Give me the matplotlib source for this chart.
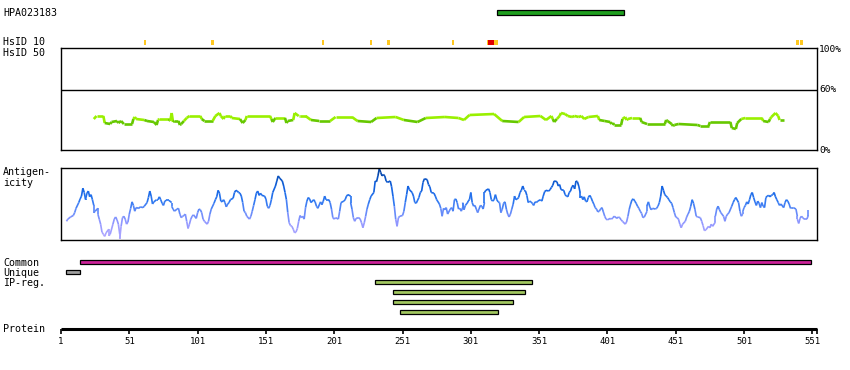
"""
Protein feature overview — HPA023183
Tracks: antibody target, HsID marks, identity %, antigenicity, regions, protein axis
"""

import numpy as np
import matplotlib
matplotlib.use("Agg")
import matplotlib.pyplot as plt
from matplotlib.collections import LineCollection
from matplotlib.colors import LinearSegmentedColormap, Normalize

# ── 1. Data ───────────────────────────────────────────────────────────────
SEQ_END = 554.4
AXIS_TICKS = [1, 51, 101, 151, 201, 251, 301, 351, 401, 451, 501, 551]

hpa_start, hpa_end = 320, 413

hsid_start = [62, 111, 192, 227, 240, 287, 313, 313.6, 318, 539, 542]
hsid_width = [1.5, 2, 1.5, 1.5, 2, 1.5, 0.8, 4.5, 2.7, 2.3, 2]
hsid_color = ["#ffc820"] * 6 + ["#ffc820", "#e00000", "#ffc820", "#ffc820", "#ffc820"]

id_res = [25, 27, 32, 33, 37, 38, 42, 43, 45, 47,
          53, 54, 55, 56, 62, 64, 69, 71, 72, 73,
          80, 81, 82, 83, 84, 87, 88, 89, 91, 93,
          95, 103, 104, 106, 112, 114, 117, 118, 120, 121,
          125, 126, 132, 134, 136, 137, 154, 155, 156, 158,
          165, 166, 167, 171, 172, 175, 176,
          180, 184, 190, 198, 202, 214, 218, 228, 232, 246,
          252, 262, 268, 282, 292, 296, 300, 318, 324, 336,
          340, 352, 356,
          360, 361, 362, 364, 366, 367, 370, 372, 375, 377,
          380, 382, 384, 387, 394, 395, 399, 403, 404, 405,
          406, 411, 412, 414, 415, 416, 419, 425, 426, 430,
          443, 444, 445, 448, 449, 450, 453, 467, 469, 475,
          476, 491, 492, 495, 496, 499, 502, 514, 515, 519,
          520, 521, 524, 526, 527, 530]
id_pct = [31, 34, 34, 27, 26, 28, 29, 27, 29, 26,
          26, 31, 33, 31, 30, 29, 28, 25, 30, 31,
          31, 29, 37, 28, 29, 29, 25, 26, 29, 32,
          34, 34, 31, 29, 29, 34, 37, 34, 31, 34,
          34, 32, 31, 27, 30, 34, 34, 31, 28, 32,
          32, 27, 29, 30, 37, 34, 34,
          34, 30, 29, 29, 33, 33, 29, 28, 32, 33,
          30, 28, 32, 33, 32, 30, 35, 36, 29, 28,
          33, 34, 30,
          34, 31, 28, 31, 34, 37, 36, 34, 33, 34,
          33, 34, 31, 33, 34, 30, 29, 28, 26, 27,
          25, 25, 31, 33, 30, 31, 32, 32, 28, 26,
          26, 30, 29, 26, 24, 25, 26, 25, 24, 24,
          28, 28, 22, 21, 27, 31, 32, 32, 29, 28,
          31, 33, 37, 34, 30, 30]

ag_res = [5, 6, 8, 10, 11, 12, 14, 15, 16, 17,
          18, 19, 19, 20, 21, 22, 23, 24, 25, 25,
          26, 28, 28, 29, 30, 31, 32, 33, 34, 36,
          36, 37, 39, 40, 41, 42, 43, 44, 44, 45,
          46, 47, 48, 49, 50, 51, 52, 53, 54, 55,
          56, 58, 59, 61, 62, 64, 65, 66, 67, 68,
          69, 71, 72, 73, 74, 75, 76, 77, 78, 80,
          82, 82, 83, 84, 86, 87, 88, 89, 90, 91,
          92, 93, 94, 95, 96, 97, 98, 100, 101, 102,
          103, 104, 105, 106, 108, 109, 110, 111, 113, 114,
          115, 116, 117, 118, 119, 120, 121, 122, 123, 124,
          125, 127, 128, 129, 130, 131, 132, 133, 134, 135,
          136, 137, 139, 140, 141, 142, 143, 144, 145, 146,
          147, 148, 150, 151, 152, 153, 154, 155, 156, 158,
          159, 160, 161, 163, 164, 165, 166, 167, 168, 169,
          170, 171, 172, 173, 174, 175, 176, 177, 178, 179,
          180, 181, 182, 183, 184, 186, 187, 188, 189, 191,
          192, 193, 194, 195, 197, 198, 199, 200, 201, 202,
          204, 205, 206, 208, 209, 210, 211, 213, 213, 214,
          215, 216, 217, 219, 220, 221, 222, 223, 224, 225,
          226, 227, 228, 230, 231, 232, 233, 234, 235, 236,
          237, 238, 239, 240, 242, 243, 244, 245, 246, 247,
          248, 249, 251, 252, 253, 254, 255, 256, 258, 259,
          260, 261, 263, 264, 265, 266, 267, 269, 270, 271,
          272, 274, 275, 276,
          278, 279, 280, 281, 282, 283, 284, 286, 287, 288,
          289, 290, 291, 292, 293, 294, 295, 295, 296, 297,
          299, 299, 300, 301, 302, 303, 304, 305, 306, 307,
          308, 309, 310, 311, 311, 312, 314, 315, 316, 317,
          318, 319, 320, 321, 322, 323, 324, 325, 326, 327,
          328, 329, 330, 331, 332, 333, 334, 335, 336, 337,
          338, 339, 340, 340, 341, 342, 343, 344, 345, 346,
          347, 348, 349, 350, 352, 353, 354, 355, 356, 358,
          359, 360, 361, 362, 364, 365, 366, 367, 369, 370,
          371, 372, 373, 374, 375, 376, 377, 378, 379, 380,
          381, 381, 382, 383, 384, 385, 386, 387, 388, 389,
          390, 391, 392, 393, 394, 395, 396, 397, 398, 399,
          400, 401, 403, 404, 405, 406, 408, 409, 410, 411,
          412, 414, 415, 416, 417, 418, 419, 420, 421, 422,
          423, 424, 425, 426, 427, 428, 430, 430, 431, 432,
          433, 434, 436, 437, 438, 439, 440, 441, 442, 443,
          444, 445, 446, 447, 448, 449, 450, 451, 452, 453,
          454, 455, 456, 458, 459, 460, 461, 462, 463, 464,
          465, 466, 467, 469, 470, 471, 472, 473, 475, 476,
          477, 478, 480, 480, 481, 482, 483, 484, 486, 487,
          488, 489, 490, 492, 493, 494, 495, 497, 498, 499,
          500, 500, 501, 502, 503, 504, 505, 506, 507, 508,
          509, 510, 511, 512, 513, 514, 515, 516, 517, 518,
          519, 520, 521, 522, 523, 524, 525, 526, 527, 528,
          530, 531, 532, 533, 534, 535, 536, 537, 539, 540,
          540, 541, 542, 543, 544, 545, 547, 548, 548]
ag_val = [26, 29, 32, 34, 38, 44, 52, 57, 61, 72,
          66, 56, 57, 65, 68, 60, 63, 56, 48, 38,
          40, 44, 36, 29, 22, 11, 8, 5, 10, 15,
          6, 8, 22, 29, 32, 28, 22, 8, 2, 19,
          31, 33, 29, 22, 25, 36, 44, 53, 48, 40,
          45, 44, 46, 45, 47, 52, 59, 68, 61, 50,
          53, 56, 56, 60, 56, 51, 48, 54, 55, 55,
          52, 47, 43, 40, 43, 44, 36, 31, 33, 34,
          36, 26, 16, 22, 29, 33, 35, 30, 38, 43,
          42, 38, 29, 26, 22, 26, 36, 43, 51, 56,
          60, 69, 65, 54, 53, 56, 52, 46, 50, 52,
          56, 58, 66, 69, 68, 66, 65, 61, 52, 40,
          38, 33, 29, 33, 40, 48, 56, 65, 68, 62,
          65, 62, 61, 57, 47, 44, 48, 56, 66, 75,
          82, 89, 86, 82, 75, 66, 56, 38, 24, 20,
          19, 15, 10, 11, 16, 26, 34, 31, 33, 29,
          45, 54, 59, 57, 52, 56, 53, 47, 44, 53,
          49, 54, 61, 56, 56, 52, 43, 31, 29, 31,
          29, 40, 52, 54, 56, 61, 63, 61, 52, 43,
          31, 26, 30, 31, 29, 24, 17, 24, 33, 43,
          50, 56, 61, 66, 82, 81, 89, 99, 94, 89,
          91, 89, 82, 80, 82, 74, 61, 47, 29, 19,
          31, 33, 34, 40, 52, 63, 75, 70, 66, 61,
          52, 51, 59, 66, 68, 80, 85, 84, 77, 74,
          66, 65, 61, 56,
          50, 44, 33, 44, 42, 45, 36, 43, 45, 40,
          56, 57, 52, 43, 44, 40, 45, 52, 42, 48,
          53, 54, 56, 66, 52, 47, 48, 43, 38, 43,
          48, 47, 43, 52, 66, 69, 71, 66, 56, 54,
          56, 63, 56, 53, 52, 38, 43, 51, 53, 43,
          36, 32, 36, 43, 50, 61, 56, 57, 59, 66,
          69, 75, 70, 69, 68, 62, 52, 54, 53, 51,
          48, 53, 52, 54, 56, 54, 61, 67, 69, 68,
          70, 73, 76, 82, 81, 75, 77, 70, 69, 63,
          61, 60, 66, 68, 74, 76, 71, 82, 81, 75,
          66, 59, 61, 56, 60, 54, 53, 59, 62, 59,
          54, 50, 45, 43, 39, 40, 43, 45, 39, 33,
          29, 28, 30, 29, 31, 33, 30, 32, 31, 28,
          26, 22, 25, 33, 43, 50, 56, 57, 54, 51,
          47, 44, 40, 37, 31, 32, 40, 48, 53, 46,
          42, 44, 43, 44, 47, 52, 61, 75, 69, 63,
          61, 59, 56, 53, 51, 45, 38, 32, 31, 29,
          22, 17, 22, 26, 32, 36, 40, 47, 56, 51,
          43, 33, 32, 31, 26, 20, 13, 14, 19, 17,
          22, 19, 25, 33, 43, 47, 42, 38, 33, 26,
          33, 36, 38, 47, 52, 56, 59, 52, 40, 33,
          36, 39, 45, 48, 53, 50, 56, 63, 66, 59,
          53, 48, 54, 51, 45, 52, 47, 45, 59, 61,
          62, 60, 62, 63, 66, 60, 56, 52, 48, 50,
          45, 52, 56, 54, 50, 44, 45, 45, 43, 33,
          29, 23, 30, 33, 31, 29, 29, 34, 42]

common_start, common_end = 15, 550
unique_start, unique_end = 5, 15
ipreg_start = [231, 244, 244, 249]
ipreg_end = [346, 341, 332, 321]

# ── 2. Layout helpers (pixel grid of an 850x370 canvas) ──────────────────
W, H = 850, 370
PX_RES = 1.366          # pixels per residue
X0 = 61                 # pixel of residue 1
MONO = "DejaVu Sans Mono"


def box(left, top, right, bottom):
    return [left / W, 1 - bottom / H, (right - left) / W, (bottom - top) / H]


fig = plt.figure(figsize=(W / 100, H / 100), dpi=100)
fig.patch.set_facecolor("white")

# full-canvas track axes: x in residues, y in pixel rows
trk = fig.add_axes([0, 0, 1, 1])
trk.set_xlim(1 - X0 / PX_RES, 1 + (W - X0) / PX_RES)
trk.set_ylim(H, 0)
trk.axis("off")


def bar(start, end, y, color, h=4.2):
    trk.barh(y, end - start, left=start, height=h, color=color,
             edgecolor="black", linewidth=0.9)


# ── 3. Top tracks ─────────────────────────────────────────────────────────
bar(hpa_start, hpa_end, 12.5, "#1f9f1f")
for s, w, c in zip(hsid_start, hsid_width, hsid_color):
    trk.barh(42.3, w, left=s, height=4.6, color=c, linewidth=0)

# ── 4. Identity panel ─────────────────────────────────────────────────────
ax_id = fig.add_axes(box(61, 48, 817, 150))
ax_id.set_xlim(1, SEQ_END)
ax_id.set_ylim(0, 102)
ax_id.axhline(60, color="black", lw=1.0)
pts = np.column_stack([id_res, id_pct])
segs = np.stack([pts[:-1], pts[1:]], axis=1)
mean_seg = (np.array(id_pct[:-1]) + np.array(id_pct[1:])) / 2
seg_cols = ["#99f000" if m >= 30.5 else "#66c800" for m in mean_seg]
ax_id.add_collection(LineCollection(segs, colors=seg_cols, linewidths=1.9,
                                    capstyle="butt"))
for v, lab in [(100, "100%"), (60, "60%"), (0, "0%")]:
    ax_id.text(1.003, v, lab, transform=ax_id.get_yaxis_transform(),
               ha="left", va="center", fontsize=6.8, family=MONO)

# ── 5. Antigenicity panel ─────────────────────────────────────────────────
ax_ag = fig.add_axes(box(61, 168, 817, 240))
ax_ag.set_xlim(1, SEQ_END)
ax_ag.set_ylim(0, 100)
cmap = LinearSegmentedColormap.from_list(
    "ag", [(0.0, "#b8acff"), (0.25, "#8f96ff"), (0.42, "#5b88f8"),
           (0.55, "#2a76f0"), (0.72, "#1262e2"), (0.86, "#0a52c0"),
           (1.0, "#063f98")])
pts = np.column_stack([ag_res, ag_val])
segs = np.stack([pts[:-1], pts[1:]], axis=1)
lc = LineCollection(segs, cmap=cmap, norm=Normalize(0, 100), linewidths=1.2)
lc.set_array((np.array(ag_val[:-1]) + np.array(ag_val[1:])) / 2)
ax_ag.add_collection(lc)

for ax in (ax_id, ax_ag):
    ax.set_xticks([]); ax.set_yticks([])
    for sp in ax.spines.values():
        sp.set_linewidth(1.0)

# ── 6. Region bars ────────────────────────────────────────────────────────
bar(common_start, common_end, 262.3, "#cc2299")
bar(unique_start, unique_end, 272.3, "#a0a0a0")
for i, (s, e) in enumerate(zip(ipreg_start, ipreg_end)):
    bar(s, e, 282.3 + 10 * i, "#a2c860")

# ── 7. Protein axis ───────────────────────────────────────────────────────
trk.plot([1, SEQ_END], [329.3, 329.3], color="black", lw=2.2,
         solid_capstyle="butt")
for t in AXIS_TICKS + [SEQ_END]:
    trk.plot([t, t], [329, 333.5], color="black", lw=1.2, solid_capstyle="butt")
for t in AXIS_TICKS:
    trk.text(t, 342, str(t), ha="center", va="center", fontsize=6.5, family=MONO)

# ── 8. Left labels ────────────────────────────────────────────────────────
labels = [(12.5, "HPA023183"), (42, "HsID 10"), (52.5, "HsID 50"),
          (172, "Antigen-"), (183, "icity"), (262.5, "Common"),
          (272.5, "Unique"), (282.5, "IP-reg."), (329.5, "Protein")]
for y, s in labels:
    fig.text(3 / W, 1 - y / H, s, ha="left", va="center",
             fontsize=7.2, family=MONO)

fig.savefig("out.png", dpi=100)
